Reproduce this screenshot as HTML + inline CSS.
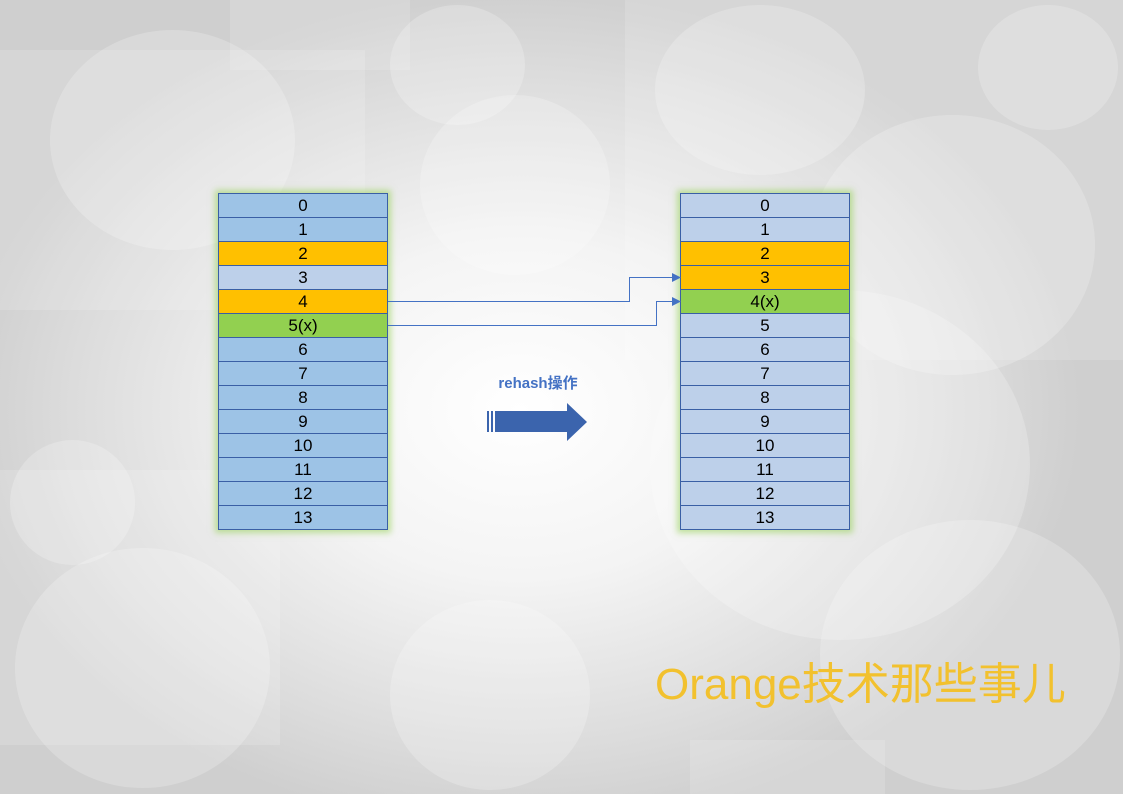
<!DOCTYPE html>
<html><head><meta charset="utf-8"><style>
body{margin:0;width:1123px;height:794px;overflow:hidden;position:relative;
background:radial-gradient(ellipse 560px 420px at 520px 410px,#ffffff 0%,#f4f4f4 40%,#dcdcdc 80%,#cfcfcf 100%);
font-family:"Liberation Sans","Noto Sans CJK SC",sans-serif;}
.c{position:absolute;border-radius:50%;background:rgba(255,255,255,0.22);}
.r{position:absolute;background:rgba(255,255,255,0.15);}
.tbl{position:absolute;top:193px;width:170px;box-shadow:0 0 6px 3px rgba(146,208,80,0.55);}
.tbl div{height:23px;border:1px solid #3a5fa5;margin-top:-1px;text-align:center;font-size:17px;line-height:23px;color:#000;background:#9dc3e6;}
.tbl div:first-child{margin-top:0}
.l{background:#bdd0ea!important}.o{background:#ffc000!important}.g{background:#92d050!important}
</style></head><body>
<div class="c" style="left:50px;top:30px;width:245px;height:220px"></div>
<div class="c" style="left:390px;top:5px;width:135px;height:120px"></div>
<div class="c" style="left:655px;top:5px;width:210px;height:170px"></div>
<div class="c" style="left:978px;top:5px;width:140px;height:125px"></div>
<div class="c" style="left:810px;top:115px;width:285px;height:260px"></div>
<div class="c" style="left:420px;top:95px;width:190px;height:180px"></div>
<div class="c" style="left:10px;top:440px;width:125px;height:125px"></div>
<div class="c" style="left:15px;top:548px;width:255px;height:240px"></div>
<div class="c" style="left:390px;top:600px;width:200px;height:190px"></div>
<div class="c" style="left:820px;top:520px;width:300px;height:270px"></div>
<div class="c" style="left:650px;top:290px;width:380px;height:350px"></div>
<div class="r" style="left:0;top:50px;width:365px;height:260px"></div>
<div class="r" style="left:230px;top:0;width:180px;height:70px"></div>
<div class="r" style="left:0;top:470px;width:280px;height:275px"></div>
<div class="r" style="left:690px;top:740px;width:195px;height:54px"></div>
<div class="r" style="left:625px;top:0;width:498px;height:360px"></div>

<div class="tbl" style="left:218px">
<div>0</div><div>1</div><div class="o">2</div><div class="l">3</div><div class="o">4</div><div class="g">5(x)</div><div>6</div><div>7</div><div>8</div><div>9</div><div>10</div><div>11</div><div>12</div><div>13</div>
</div>
<div class="tbl" style="left:680px">
<div class="l">0</div><div class="l">1</div><div class="o">2</div><div class="o">3</div><div class="g">4(x)</div><div class="l">5</div><div class="l">6</div><div class="l">7</div><div class="l">8</div><div class="l">9</div><div class="l">10</div><div class="l">11</div><div class="l">12</div><div class="l">13</div>
</div>

<svg style="position:absolute;left:0;top:0" width="1123" height="794">
<g fill="none" stroke="#4472c4" stroke-width="1">
<polyline points="388,301.5 629.5,301.5 629.5,277.5 673,277.5"/>
<polyline points="388,325.5 656.5,325.5 656.5,301.5 673,301.5"/>
</g>
<polygon points="672,273 681,277.5 672,282" fill="#4472c4"/>
<polygon points="672,297 681,301.5 672,306" fill="#4472c4"/>
<rect x="487" y="411" width="2" height="21" fill="#3b64ad"/>
<rect x="491" y="411" width="2" height="21" fill="#3b64ad"/>
<polygon points="495,411 567,411 567,403 587,422 567,441 567,432 495,432" fill="#3b64ad"/>
<text x="538" y="388" text-anchor="middle" font-size="15" font-weight="bold" fill="#4472c4" font-family="Liberation Sans, Noto Sans CJK SC, sans-serif">rehash操作</text>
</svg>
<div style="position:absolute;left:655px;top:659px;font-size:44px;color:#f2c12e;white-space:nowrap;line-height:52px">Orange技术那些事儿</div>
</body></html>
